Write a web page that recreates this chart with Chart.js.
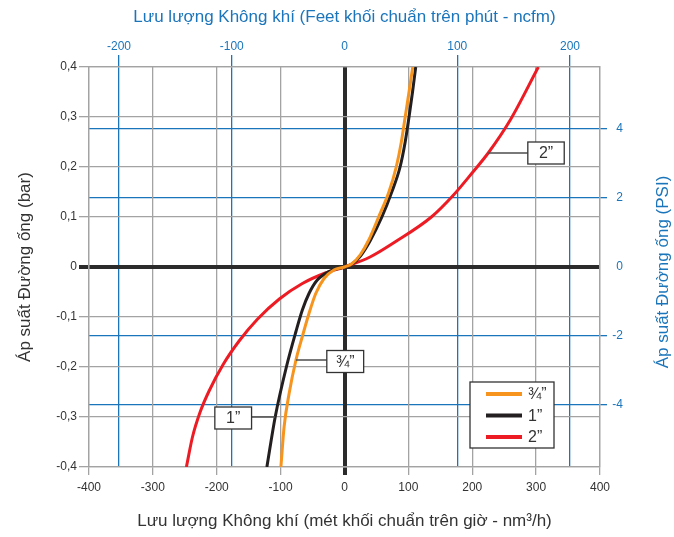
<!DOCTYPE html>
<html><head><meta charset="utf-8">
<script src="https://cdn.jsdelivr.net/npm/chart.js@4.4.1/dist/chart.umd.min.js"></script>
<style>html,body{margin:0;padding:0;background:#fff}canvas{display:block}</style>
</head><body>
<canvas id="c" width="674" height="537"></canvas>
<script>
// ---- data ----
const seriesNames = ['¾”', '1”', '2”'];
const flow34 = [-99.6,-94.5,-86.7,-76,-66,-55.6,-45,-32,-16.7,0,12,25,38,53.4,69.5,81,89,95,101,106.8];
const bar34  = [-0.4,-0.319,-0.253,-0.186,-0.139,-0.093,-0.053,-0.023,-0.006,0,0.007,0.025,0.054,0.1,0.15,0.2,0.25,0.3,0.35,0.4];
const flow1  = [-121.5,-108.5,-91,-76,-66,-55.6,-42.6,-24.4,0,12,25,40,58.5,74,87,95,101,106.5,111.5];
const bar1   = [-0.4,-0.3,-0.2,-0.129,-0.086,-0.053,-0.026,-0.009,0,0.006,0.022,0.052,0.1,0.15,0.2,0.25,0.3,0.35,0.4];
const flow2  = [-247.5,-238,-226,-212,-190,-165,-136,-102,-66,-30,0,40,79,136,170,201,225,260,303.5];
const bar2   = [-0.4,-0.34,-0.29,-0.248,-0.195,-0.148,-0.104,-0.064,-0.033,-0.012,0,0.02,0.05,0.1,0.143,0.19,0.228,0.295,0.4];

const flowTicks = [-400,-300,-200,-100,0,100,200,300,400];
const barTicks  = [-0.4,-0.3,-0.2,-0.1,0,0.1,0.2,0.3,0.4];
const ncfmTicks = [-200,-100,0,100,200];
const psiTicks  = [-4,-2,0,2,4];
const NM3H_PER_NCFM = 1.765;
const BAR_PER_PSI = 0.0689476;

const titleTop    = 'Lưu lượng Không khí (Feet khối chuẩn trên phút - ncfm)';
const titleBottom = 'Lưu lượng Không khí (mét khối chuẩn trên giờ - nm³/h)';
const titleLeft   = 'Áp suất Đường ống (bar)';
const titleRight  = 'Áp suất Đường ống (PSI)';

// ---- styles ----
const BLUE = '#1b75bb', GRAY = '#a3a3a3', DARK = '#2b2b2b', TXT = '#333333';
const FONT = '"Liberation Sans", Arial, sans-serif';
const colors = ['#f7941d', '#231f20', '#ed1c24'];

const pts = (xs, ys) => xs.map((x, i) => ({x, y: ys[i]}));
const seriesData = [pts(flow34, bar34), pts(flow1, bar1), pts(flow2, bar2)];
const fixTicks = arr => s => { s.ticks = arr.map(v => ({value: v})); };
const fmt = v => String(v).replace('.', ',');

// callouts: dataset index, point index on curve, box in data units
const callouts = [
  {ds: 2, pt: 16, x1: 287, x2: 344, yc: 0.228, text: '2”'},
  {ds: 0, pt: 3,  x1: -27.7, x2: 30, yc: -0.189, text: '¾”'},
  {ds: 1, pt: 1,  x1: -203, x2: -145.5, yc: -0.302, text: '1”'}
];

const extras = {
  id: 'extras',
  afterDatasetsDraw(chart) {
    const {ctx, chartArea: ca, scales: {x, y}} = chart;
    ctx.save();
    callouts.forEach(c => {
      const p = seriesData[c.ds][c.pt];
      const ax = x.getPixelForValue(p.x), ay = y.getPixelForValue(p.y);
      const bx1 = x.getPixelForValue(c.x1), bx2 = x.getPixelForValue(c.x2);
      const by = y.getPixelForValue(c.yc);
      const h = 22;
      ctx.strokeStyle = '#4d4d4d'; ctx.lineWidth = 1.5;
      ctx.beginPath(); ctx.moveTo(ax, ay); ctx.lineTo(bx1, ay); ctx.stroke();
      ctx.fillStyle = '#fff';
      ctx.fillRect(bx1, by - h/2, bx2 - bx1, h);
      ctx.strokeStyle = '#333'; ctx.lineWidth = 1.3;
      ctx.strokeRect(bx1, by - h/2, bx2 - bx1, h);
      ctx.fillStyle = TXT; ctx.font = '16px ' + FONT;
      ctx.textAlign = 'center'; ctx.textBaseline = 'middle';
      ctx.fillText(c.text, (bx1 + bx2)/2, by + 1);
    });
    const lw = 84, lh = 66;
    const lx = ca.right - 46 - lw, ly = ca.bottom - 19 - lh;
    ctx.fillStyle = '#fff'; ctx.fillRect(lx, ly, lw, lh);
    ctx.strokeStyle = '#333'; ctx.lineWidth = 1.3; ctx.strokeRect(lx, ly, lw, lh);
    seriesNames.forEach((n, i) => {
      const yy = ly + 12 + i * 21.5;
      ctx.strokeStyle = colors[i]; ctx.lineWidth = 4;
      ctx.beginPath(); ctx.moveTo(lx + 16, yy); ctx.lineTo(lx + 52, yy); ctx.stroke();
      ctx.fillStyle = TXT; ctx.font = '16px ' + FONT;
      ctx.textAlign = 'left'; ctx.textBaseline = 'middle';
      ctx.fillText(n, lx + 58, yy + 1);
    });
    ctx.restore();
  },
  afterDraw(chart) {
    const {ctx, chartArea: ca} = chart;
    ctx.save();
    ctx.translate(663, (ca.top + ca.bottom) / 2 + 5);
    ctx.rotate(-Math.PI / 2);
    ctx.fillStyle = BLUE; ctx.font = '17px ' + FONT;
    ctx.textAlign = 'center'; ctx.textBaseline = 'middle';
    ctx.fillText(titleRight, 0, 0);
    ctx.restore();
  }
};

const zeroW = c => (c.tick && c.tick.value === 0) ? 4 : 1.3;
const zeroC = c => (c.tick && c.tick.value === 0) ? DARK : GRAY;
const blueC = c => (c.tick && c.tick.value === 0) ? 'rgba(0,0,0,0)' : BLUE;

new Chart(document.getElementById('c'), {
  type: 'scatter',
  data: {
    datasets: seriesData.map((d, i) => ({
      label: seriesNames[i], data: d, showLine: true, xAxisID: 'x', yAxisID: 'y',
      borderColor: colors[i], backgroundColor: colors[i], borderWidth: 3,
      pointRadius: 0, cubicInterpolationMode: 'monotone'
    }))
  },
  options: {
    responsive: false, animation: false, devicePixelRatio: 1,
    layout: {padding: {left: 0, right: 51, top: 0, bottom: 0}},
    plugins: {legend: {display: false}, tooltip: {enabled: false}},
    scales: {
      x2: {
        type: 'linear', position: 'top',
        min: -400 / NM3H_PER_NCFM, max: 400 / NM3H_PER_NCFM,
        afterBuildTicks: fixTicks(ncfmTicks),
        afterFit: s => { s.height = 67; },
        grid: {color: blueC, tickColor: blueC, lineWidth: 1.3, tickLength: 12},
        border: {display: true, color: GRAY, width: 1.3},
        ticks: {color: BLUE, font: {family: FONT, size: 12}, padding: 1, maxRotation: 0, autoSkip: false},
        title: {display: true, text: titleTop, color: BLUE, font: {family: FONT, size: 17}, padding: {top: 7, bottom: 0}}
      },
      y2: {
        type: 'linear', position: 'right',
        min: -0.4 / BAR_PER_PSI, max: 0.4 / BAR_PER_PSI,
        afterBuildTicks: fixTicks(psiTicks),
        afterFit: s => { s.width = 23; },
        grid: {color: blueC, tickColor: blueC, lineWidth: 1.3, tickLength: 7},
        border: {display: true, color: GRAY, width: 1.3},
        ticks: {color: BLUE, font: {family: FONT, size: 12}, crossAlign: 'far', padding: 0, autoSkip: false}
      },
      x: {
        type: 'linear', position: 'bottom', min: -400, max: 400,
        afterBuildTicks: fixTicks(flowTicks),
        afterFit: s => { s.height = 70; },
        grid: {color: zeroC, lineWidth: zeroW, tickLength: 8},
        border: {display: true, color: GRAY, width: 1.3},
        ticks: {color: TXT, font: {family: FONT, size: 12}, padding: 5, maxRotation: 0, autoSkip: false},
        title: {display: true, text: titleBottom, color: TXT, font: {family: FONT, size: 17}, padding: {top: 0, bottom: 5}}
      },
      y: {
        type: 'linear', position: 'left', min: -0.4, max: 0.4,
        afterBuildTicks: fixTicks(barTicks),
        afterFit: s => { s.width = 89; },
        grid: {color: zeroC, lineWidth: zeroW, tickLength: 10},
        border: {display: true, color: GRAY, width: 1.3},
        ticks: {color: TXT, font: {family: FONT, size: 12}, padding: 2, autoSkip: false, callback: v => fmt(v)},
        title: {display: true, text: titleLeft, color: TXT, font: {family: FONT, size: 17}, padding: {top: 15, bottom: 0}}
      }
    }
  },
  plugins: [extras]
});
</script>
</body></html>
